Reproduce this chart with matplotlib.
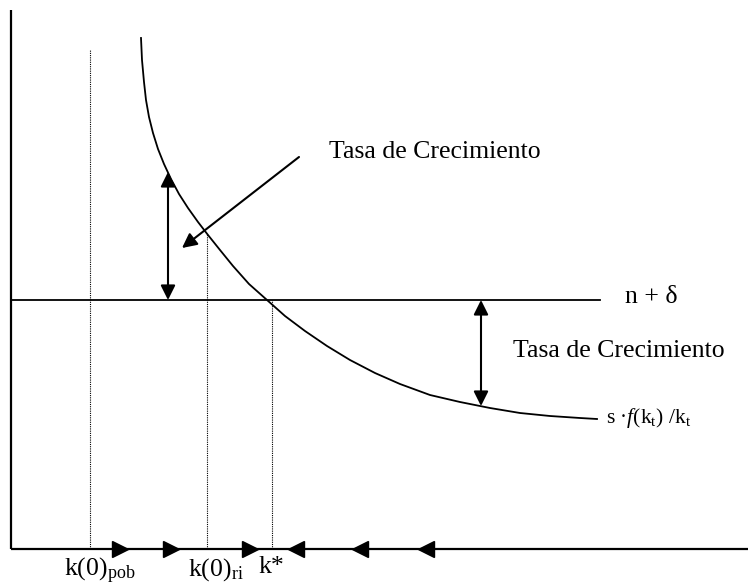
import matplotlib
matplotlib.use("Agg")
import matplotlib.pyplot as plt

plt.rcParams['font.family'] = ['Liberation Serif', 'DejaVu Serif']
plt.rcParams['mathtext.fontset'] = 'custom'
plt.rcParams['mathtext.rm'] = 'Liberation Serif'
plt.rcParams['mathtext.it'] = 'Liberation Serif:italic'

# Curve s·f(k)/k
curve_k = [130, 131, 133, 135, 138, 142, 147, 153, 160, 168, 177, 187, 197, 209, 222,
           238, 256, 274, 294, 316, 339, 364, 389, 419, 449, 479, 509, 539, 569, 586]
curve_y = [511, 489, 467, 449, 432, 416, 400, 385, 370, 355, 341, 327, 314, 299, 283,
           265, 249, 233, 218, 203, 189, 176, 165, 154, 147, 141, 136, 133, 131, 130]

# n + delta line
line_level = 249
line_k = [0, 589]

# axes extent
xaxis_end = 737
yaxis_end = 539

# vertical dotted lines: k positions and top heights
dotted_k = [79, 196, 261]
dotted_top = [499, 315, 249]

# bottom labels
label_texts = [r"$\mathrm{k(0)_{pob}}$", r"$\mathrm{k(0)_{ri}}$", "k*"]
label_k = [89, 205, 260]

# arrows along the k axis
right_arrow_k = [109, 160, 239]
left_arrow_k = [285, 349, 415]

# growth-rate double arrows (k, low, high)
gap1 = (157, 249, 377)
gap2 = (470, 249, 143)

# diagonal pointer arrow (from, to)
diag_from = (288, 392)
diag_to = (171, 301)

fig = plt.figure(figsize=(7.48, 5.85), dpi=100)
ax = fig.add_axes([0, 0, 1, 1])
ax.set_xlim(-11, 737)
ax.set_ylim(-36, 549)
ax.axis('off')

# axes
ax.plot([0, 0], [0, yaxis_end], color='black', lw=1.6, solid_capstyle='butt')
ax.plot([0, xaxis_end], [0, 0], color='black', lw=1.6, solid_capstyle='butt')

# n + delta line
ax.plot(line_k, [line_level, line_level], color='black', lw=1.3)

# curve
ax.plot(curve_k, curve_y, color='black', lw=1.3, solid_joinstyle='round')

# dotted lines
for k, top in zip(dotted_k, dotted_top):
    ax.plot([k, k], [0, top], color='black', lw=0.8, ls=(0, (1, 1)))

# k-axis arrows
ax.plot(right_arrow_k, [0] * len(right_arrow_k), ls='none', marker='>', color='black', ms=11)
ax.plot(left_arrow_k, [0] * len(left_arrow_k), ls='none', marker='<', color='black', ms=11)

# double arrows
for k, lo, hi in (gap1, gap2):
    ax.annotate('', xy=(k, hi), xytext=(k, lo),
                arrowprops=dict(arrowstyle='<|-|>', color='black', lw=1.5,
                                mutation_scale=22, shrinkA=0, shrinkB=0))

# diagonal arrow
ax.annotate('', xy=diag_to, xytext=diag_from,
            arrowprops=dict(arrowstyle='-|>', color='black', lw=1.5,
                            mutation_scale=22, shrinkA=0, shrinkB=0))

# texts
fs = 18.5
ax.text(318, 397, "Tasa de Crecimiento", fontsize=fs, va='center', ha='left')
ax.text(502, 198, "Tasa de Crecimiento", fontsize=fs, va='center', ha='left')
ax.text(614, 252, r"n + δ", fontsize=fs, va='center', ha='left')
ax.text(595, 131, r"s ·$\mathit{f}$(k$_\mathrm{t}$) /k$_\mathrm{t}$", fontsize=15.5, va='center', ha='left')

for t, k in zip(label_texts, label_k):
    ax.text(k, -7, t, fontsize=fs, va='top', ha='center')

fig.savefig("out.png", dpi=100)
